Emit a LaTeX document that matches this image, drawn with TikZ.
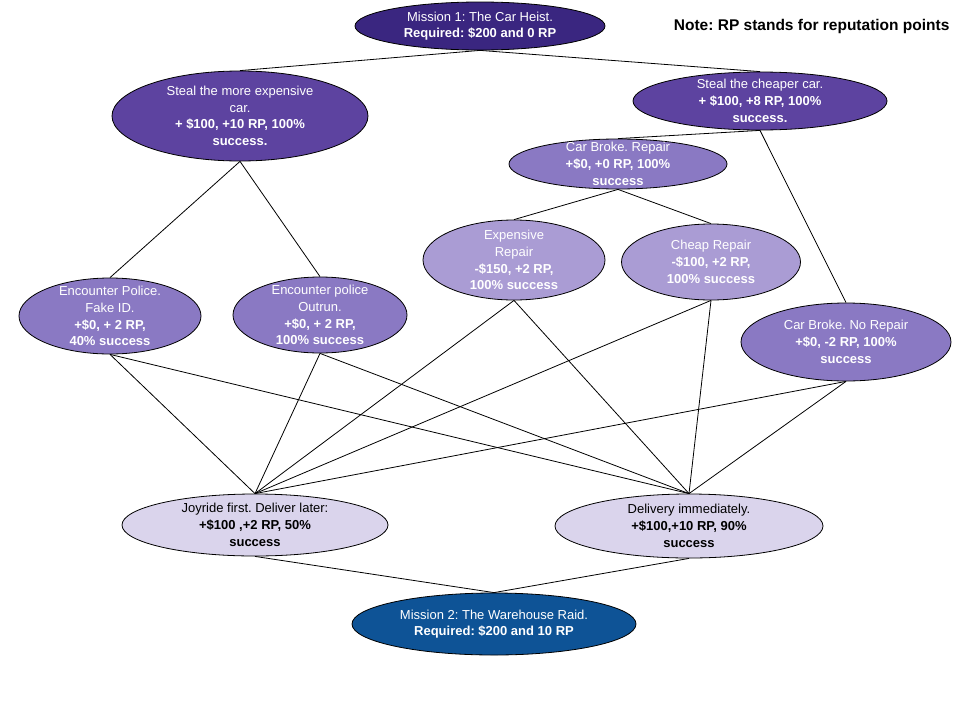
\documentclass[tikz,border=0pt]{standalone}
\usepackage{fontspec}
\setmainfont{Liberation Sans}
\usetikzlibrary{shapes.geometric}
\frenchspacing
\definecolor{cmone}{RGB}{58,38,128}
\definecolor{cdark}{RGB}{93,67,160}
\definecolor{cmid}{RGB}{138,121,195}
\definecolor{clight}{RGB}{170,156,212}
\definecolor{cpale}{RGB}{218,212,236}
\definecolor{cmtwo}{RGB}{14,83,150}
\tikzset{
  ell/.style={ellipse, draw=black, line width=0.8pt, inner xsep=0pt, inner ysep=-14pt,
    align=center, font=\frenchspacing\fontsize{13}{16.7}\selectfont, text=white},
  link/.style={draw=black, line width=0.8pt},
}
\begin{document}
\begin{tikzpicture}[x=1pt,y=-1pt]
\useasboundingbox (0,0) rectangle (960,720);
\fill[white] (0,0) rectangle (960,720);

\node[ell, fill=cmone, minimum width=250pt, minimum height=48pt] (m1) at (480,26)
  {Mission 1: The Car Heist.\\\textbf{Required: \$200 and 0 RP}};
\node[anchor=east, font=\fontsize{15.5}{18}\selectfont\bfseries] (note) at (953,26)
  {Note: RP stands for reputation points};

\node[ell, fill=cdark, minimum width=256pt, minimum height=90pt] (se) at (240,116)
  {Steal the more expensive\\car.\\\textbf{+ \$100, +10 RP, 100\%}\\\textbf{success.}};
\node[ell, fill=cdark, minimum width=254pt, minimum height=58pt] (sc) at (760,101)
  {Steal the cheaper car.\\\textbf{+ \$100, +8 RP, 100\%}\\\textbf{success.}};
\node[ell, fill=cmid, minimum width=218pt, minimum height=50pt] (cbr) at (618,164)
  {Car Broke. Repair\\\textbf{+\$0, +0 RP, 100\%}\\\textbf{success}};
\node[ell, fill=clight, minimum width=182pt, minimum height=80pt] (er) at (514,260)
  {Expensive\\Repair\\\textbf{-\$150, +2 RP,}\\\textbf{100\% success}};
\node[ell, fill=clight, minimum width=179pt, minimum height=76pt] (cr) at (711,262)
  {Cheap Repair\\\textbf{-\$100, +2 RP,}\\\textbf{100\% success}};
\node[ell, fill=cmid, minimum width=182pt, minimum height=76pt] (fid) at (110,316)
  {Encounter Police.\\Fake ID.\\\textbf{+\$0, + 2 RP,}\\\textbf{40\% success}};
\node[ell, fill=cmid, minimum width=174pt, minimum height=76pt] (out) at (320,315)
  {Encounter police\\Outrun.\\\textbf{+\$0, + 2 RP,}\\\textbf{100\% success}};
\node[ell, fill=cmid, minimum width=210pt, minimum height=78pt] (nr) at (846,342)
  {Car Broke. No Repair\\\textbf{+\$0, -2 RP, 100\%}\\\textbf{success}};
\node[ell, fill=cpale, text=black, minimum width=266pt, minimum height=62pt] (joy) at (255,525)
  {Joyride first. Deliver later:\\\textbf{+\$100 ,+2 RP, 50\%}\\\textbf{success}};
\node[ell, fill=cpale, text=black, minimum width=268pt, minimum height=64pt] (del) at (689,526)
  {Delivery immediately.\\\textbf{+\$100,+10 RP, 90\%}\\\textbf{success}};
\node[ell, fill=cmtwo, minimum width=284pt, minimum height=62pt] (m2) at (494,624)
  {Mission 2: The Warehouse Raid.\\\textbf{Required: \$200 and 10 RP}};

\draw[link] (m1.south) -- (se.north);
\draw[link] (m1.south) -- (sc.north);
\draw[link] (se.south) -- (fid.north);
\draw[link] (se.south) -- (out.north);
\draw[link] (sc.south) -- (cbr.north);
\draw[link] (sc.south) -- (nr.north);
\draw[link] (cbr.south) -- (er.north);
\draw[link] (cbr.south) -- (cr.north);
\foreach \s in {fid,out,er,cr,nr}{
  \draw[link] (\s.south) -- (joy.north);
  \draw[link] (\s.south) -- (del.north);
}
\draw[link] (joy.south) -- (m2.north);
\draw[link] (del.south) -- (m2.north);
\end{tikzpicture}
\end{document}
